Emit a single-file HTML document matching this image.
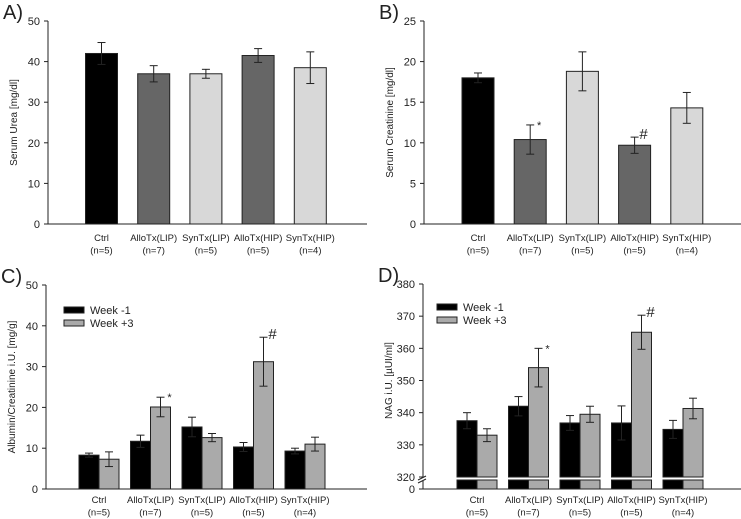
<!DOCTYPE html>
<html><head><meta charset="utf-8"><style>
body{margin:0;background:#fff;}
svg{display:block;font-family:"Liberation Sans",sans-serif;}
</style></head><body>
<svg id="c" width="741" height="519" viewBox="0 0 741 519" xmlns="http://www.w3.org/2000/svg"></svg>
<script>
const groups=["Ctrl","AlloTx(LIP)","SynTx(LIP)","AlloTx(HIP)","SynTx(HIP)"];
const ns=["(n=5)","(n=7)","(n=5)","(n=5)","(n=4)"];
const ureaVals=[42,37,37,41.5,38.5];
const ureaErr=[2.7,2,1.1,1.7,3.9];
const creaVals=[18,10.4,18.8,9.7,14.3];
const creaErr=[0.6,1.8,2.4,1,1.9];
const creaMarks=["","*","","#",""];
const albW1=[8.3,11.7,15.2,10.3,9.3];
const albW1Err=[0.5,1.5,2.4,1.1,0.7];
const albW3=[7.3,20.1,12.6,31.2,11];
const albW3Err=[1.8,2.4,1,6,1.7];
const albMarks=["","*","","#",""];
const nagW1=[337.5,342,336.8,336.8,334.8];
const nagW1Err=[2.5,3,2.3,5.3,2.8];
const nagW3=[333,354,339.5,365,341.3];
const nagW3Err=[2,6,2.5,5.3,3.2];
const nagMarks=["","*","","#",""];
const ticksA=[0,10,20,30,40,50];
const ticksB=[0,5,10,15,20,25];
const ticksD=[330,340,350,360,370,380];
const singleColors=["#000","#666","#d8d8d8","#666","#d8d8d8"];

const svg=document.getElementById('c');
const NS="http://www.w3.org/2000/svg";
function mk(tag,attrs,parent){const e=document.createElementNS(NS,tag);for(const k in attrs)e.setAttribute(k,attrs[k]);(parent||svg).appendChild(e);return e;}
function txt(x,y,s,size,anchor,parent,rot){const t=mk('text',{x:x,y:y,'font-size':size,'text-anchor':anchor||'middle',fill:'#222'},parent);if(rot)t.setAttribute('transform',rot);t.textContent=s;return t;}
function errbar(g,cx,y1,y2){mk('line',{x1:cx,x2:cx,y1:y1,y2:y2,stroke:'#222','stroke-width':1},g);mk('line',{x1:cx-4,x2:cx+4,y1:y1,y2:y1,stroke:'#222','stroke-width':1},g);mk('line',{x1:cx-4,x2:cx+4,y1:y2,y2:y2,stroke:'#222','stroke-width':1},g);}

function panel(o){
  const g=mk('g',{});
  
  
  const y=v=>o.y0-(v-o.vmin)/(o.vmax-o.vmin)*(o.y0-o.ytop);
  const cx=i=>o.cx0+i*o.step;
  const pl=txt(o.ax-45,o.ytop-2,o.letter,20,'start',g);
  
  const ya=mk('line',{x1:o.ax,x2:o.ax,y1:o.ytop,y2:o.broken?o.y0+1:o.y0,stroke:'#222'},g);
  
  const xa=mk('line',{x1:o.ax,x2:o.axEnd,y1:o.xAxisY,y2:o.xAxisY,stroke:'#222'},g);
  
  o.ticks.forEach(t=>{const yy=y(t);mk('line',{x1:o.ax-4,x2:o.ax,y1:yy,y2:yy,stroke:'#222'},g);const tl=txt(o.ax-8,yy+4,String(t),11,'end',g);});
  if(o.broken){
    mk('line',{x1:o.ax,x2:o.ax,y1:o.y0+4,y2:o.xAxisY,stroke:'#222'},g);
    mk('rect',{x:o.ax-5,y:o.y0,width:10,height:4,fill:'#fff'},g);
    mk('line',{x1:o.ax-5,x2:o.ax+3,y1:o.y0+3,y2:o.y0-1,stroke:'#222'},g);
    mk('line',{x1:o.ax-5,x2:o.ax+3,y1:o.y0+6,y2:o.y0+2,stroke:'#222'},g);
    mk('line',{x1:o.ax-4,x2:o.ax,y1:o.y0,y2:o.y0,stroke:'#222'},g);
    txt(o.ax-8,o.y0+4,'320',11,'end',g);
    mk('line',{x1:o.ax-4,x2:o.ax,y1:o.xAxisY,y2:o.xAxisY,stroke:'#222'},g);
    txt(o.ax-8,o.xAxisY+4,'0',11,'end',g);
  }
  const yt=txt(0,0,o.ytitle,10,'middle',g,`translate(${o.ax-31},${(o.ytop+o.y0)/2}) rotate(-90)`);
  
  groups.forEach((gn,i)=>{
    const l1=txt(cx(i),o.xAxisY+o.l1,gn,9.5,'middle',g);
    txt(cx(i),o.xAxisY+o.l1+12.5,ns[i],9.5,'middle',g);
  });
  o.series.forEach((s,si)=>{
    s.vals.forEach((v,i)=>{
      const x=cx(i)+s.off;
      const top=y(v);
      const base=o.y0;
      const r=mk('rect',{x:x,y:top,width:s.w,height:base-top,fill:s.colors[i],stroke:'#222','stroke-width':1},g);
      
      if(o.broken){mk('rect',{x:x,y:o.y0+3,width:s.w,height:o.xAxisY-o.y0-3,fill:s.colors[i],stroke:'#222'},g);}
      errbar(g,x+s.w/2,y(v+s.err[i]),y(v-s.err[i]));
      if(s.marks&&s.marks[i]){const m=txt(x+s.w/2+9,y(v+s.err[i])+(s.marks[i]==='*'?4:2),s.marks[i],s.marks[i]==='*'?11:15,'middle',g);}
    });
  });
  if(o.legend){
    o.legend.forEach((l,i)=>{
      const lg=mk('g',{},g);
      mk('rect',{x:o.lx,y:o.ly+i*13,width:20,height:6,fill:l.c,stroke:'#222'},lg);
      txt(o.lx+26,o.ly+i*13+7,l.t,11,'start',lg);
    });
  }
}
panel({name:'panel-a-serum-urea',letter:'A)',ax:48,axEnd:367,ytop:21,y0:224,xAxisY:224,l1:17,vmin:0,vmax:50,ticks:ticksA,ytitle:'Serum Urea [mg/dl]',cx0:101.5,step:52.2,
  series:[{key:'urea',vals:ureaVals,err:ureaErr,off:-16,w:32,colors:singleColors}]});
panel({name:'panel-b-serum-creatinine',letter:'B)',ax:424,axEnd:741,ytop:21,y0:224,xAxisY:224,l1:17,vmin:0,vmax:25,ticks:ticksB,ytitle:'Serum Creatinine [mg/dl]',cx0:478,step:52.2,
  series:[{key:'creatinine',vals:creaVals,err:creaErr,marks:creaMarks,off:-16,w:32,colors:singleColors}]});
panel({name:'panel-c-albumin-creatinine',letter:'C)',ax:46,axEnd:367,ytop:285,y0:489,xAxisY:489,l1:14,vmin:0,vmax:50,ticks:ticksA,ytitle:'Albumin/Creatinine i.U. [mg/g]',cx0:99,step:51.5,
  series:[{key:'week-minus1',vals:albW1,err:albW1Err,off:-20,w:20,colors:Array(5).fill('#000')},
          {key:'week-plus3',vals:albW3,err:albW3Err,marks:albMarks,off:0,w:20,colors:Array(5).fill('#aaa')}],
  legend:[{t:'Week -1',c:'#000'},{t:'Week +3',c:'#aaa'}],lx:64,ly:307});
panel({name:'panel-d-nag',letter:'D)',ax:423,axEnd:741,ytop:284,y0:477,xAxisY:489,l1:14,vmin:320,vmax:380,ticks:ticksD,broken:true,ytitle:'NAG i.U. [µUI/ml]',cx0:477,step:51.5,
  series:[{key:'week-minus1',vals:nagW1,err:nagW1Err,off:-20,w:20,colors:Array(5).fill('#000')},
          {key:'week-plus3',vals:nagW3,err:nagW3Err,marks:nagMarks,off:0,w:20,colors:Array(5).fill('#aaa')}],
  legend:[{t:'Week -1',c:'#000'},{t:'Week +3',c:'#aaa'}],lx:437,ly:304});
</script>
</body></html>
